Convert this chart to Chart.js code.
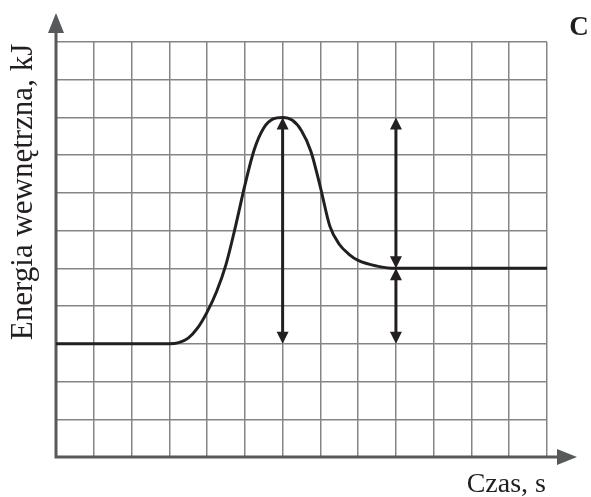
<!DOCTYPE html>
<html><head><meta charset="utf-8">
<script src="https://cdn.jsdelivr.net/npm/chart.js@4/dist/chart.umd.min.js"></script>
<style>html,body{margin:0;padding:0;background:#fff;overflow:hidden}</style>
</head><body>
<canvas id="c" width="591" height="497"></canvas>
<script>
// ---- data ----
const timeValues   = [0, 3, 3.25, 3.5, 3.75, 4, 4.25, 4.5, 4.75, 5, 5.25, 5.5, 5.75, 6, 6.25, 6.5, 6.75, 7, 7.25, 7.5, 7.75, 8, 8.5, 9, 13];
const energyValues = [3, 3, 3.03, 3.15, 3.42, 3.84, 4.38, 5.1, 6.1, 7.2, 8.15, 8.72, 8.96, 9, 8.93, 8.65, 8.1, 7.15, 6.12, 5.64, 5.38, 5.21, 5.06, 5, 5];
const xMax = 13;
const yMax = 11;
const arrowX    = [6, 9, 9];
const arrowFrom = [3, 5, 3];
const arrowTo   = [9, 9, 5];
const yTitle = 'Energia wewnętrzna, kJ';
const xTitle = 'Czas, s';
const panelLabel = 'C';

const points = timeValues.map((t, i) => ({x: t, y: energyValues[i]}));
const INK = '#231f20';
const AXIS = '#58595b';

const decor = {
  id: 'decor',
  beforeDatasetsDraw(chart) {
    const {ctx, scales: {x, y}} = chart;
    const x0 = x.getPixelForValue(0), y0 = y.getPixelForValue(0);
    const yt = y.getPixelForValue(yMax), xr = x.getPixelForValue(xMax);
    ctx.save();
    ctx.strokeStyle = AXIS; ctx.fillStyle = AXIS; ctx.lineWidth = 3;
    ctx.beginPath();
    ctx.moveTo(x0, y0 + 1.5); ctx.lineTo(x0, yt - 12);
    ctx.moveTo(x0 - 1.5, y0); ctx.lineTo(xr + 14, y0);
    ctx.stroke();
    ctx.beginPath();
    ctx.moveTo(x0, yt - 29); ctx.lineTo(x0 - 8, yt - 9); ctx.lineTo(x0 + 8, yt - 9); ctx.closePath(); ctx.fill();
    ctx.beginPath();
    ctx.moveTo(xr + 30, y0); ctx.lineTo(xr + 10, y0 - 8); ctx.lineTo(xr + 10, y0 + 8); ctx.closePath(); ctx.fill();
    ctx.restore();
  },
  afterDatasetsDraw(chart) {
    const {ctx, scales: {x, y}} = chart;
    ctx.save();
    ctx.strokeStyle = INK; ctx.fillStyle = INK; ctx.lineWidth = 3;
    const hl = 12, hw = 6;
    for (let i = 0; i < arrowX.length; i++) {
      const px = x.getPixelForValue(arrowX[i]);
      const pt = y.getPixelForValue(arrowTo[i]);
      const pb = y.getPixelForValue(arrowFrom[i]);
      ctx.beginPath(); ctx.moveTo(px, pt + hl - 1); ctx.lineTo(px, pb - hl + 1); ctx.stroke();
      ctx.beginPath(); ctx.moveTo(px, pt); ctx.lineTo(px - hw, pt + hl); ctx.lineTo(px + hw, pt + hl); ctx.closePath(); ctx.fill();
      ctx.beginPath(); ctx.moveTo(px, pb); ctx.lineTo(px - hw, pb - hl); ctx.lineTo(px + hw, pb - hl); ctx.closePath(); ctx.fill();
    }
    ctx.restore();
  },
  afterDraw(chart) {
    const {ctx, chartArea} = chart;
    ctx.save();
    ctx.fillStyle = INK;
    ctx.font = '31px "Liberation Serif"';
    ctx.textAlign = 'center'; ctx.textBaseline = 'alphabetic';
    ctx.translate(32, 192); ctx.rotate(-Math.PI / 2);
    ctx.fillText(yTitle, 0, 0);
    ctx.restore();
    ctx.save();
    ctx.fillStyle = INK;
    ctx.font = '28px "Liberation Serif"';
    ctx.textAlign = 'right'; ctx.textBaseline = 'alphabetic';
    ctx.fillText(xTitle, chartArea.right - 1, 492);
    ctx.font = 'bold 27px "Liberation Serif"';
    ctx.textAlign = 'center';
    ctx.fillText(panelLabel, 579, 35);
    ctx.restore();
  }
};

new Chart(document.getElementById('c'), {
  type: 'line',
  data: {
    datasets: [{
      data: points,
      borderColor: INK,
      borderWidth: 3,
      pointRadius: 0,
      fill: false,
      cubicInterpolationMode: 'monotone',
      clip: false
    }]
  },
  options: {
    responsive: false,
    animation: false,
    layout: {padding: {left: 56, right: 44, top: 42, bottom: 40}},
    plugins: {legend: {display: false}, tooltip: {enabled: false}},
    scales: {
      x: {
        type: 'linear', min: 0, max: xMax,
        ticks: {stepSize: 1, display: false},
        grid: {color: '#858585', lineWidth: 1.5, drawTicks: false},
        border: {display: false},
        afterFit(s) { s.height = 0; }
      },
      y: {
        type: 'linear', min: 0, max: yMax,
        ticks: {stepSize: 1, display: false},
        grid: {color: '#858585', lineWidth: 1.5, drawTicks: false},
        border: {display: false},
        afterFit(s) { s.width = 0; }
      }
    }
  },
  plugins: [decor]
});
</script>
</body></html>
